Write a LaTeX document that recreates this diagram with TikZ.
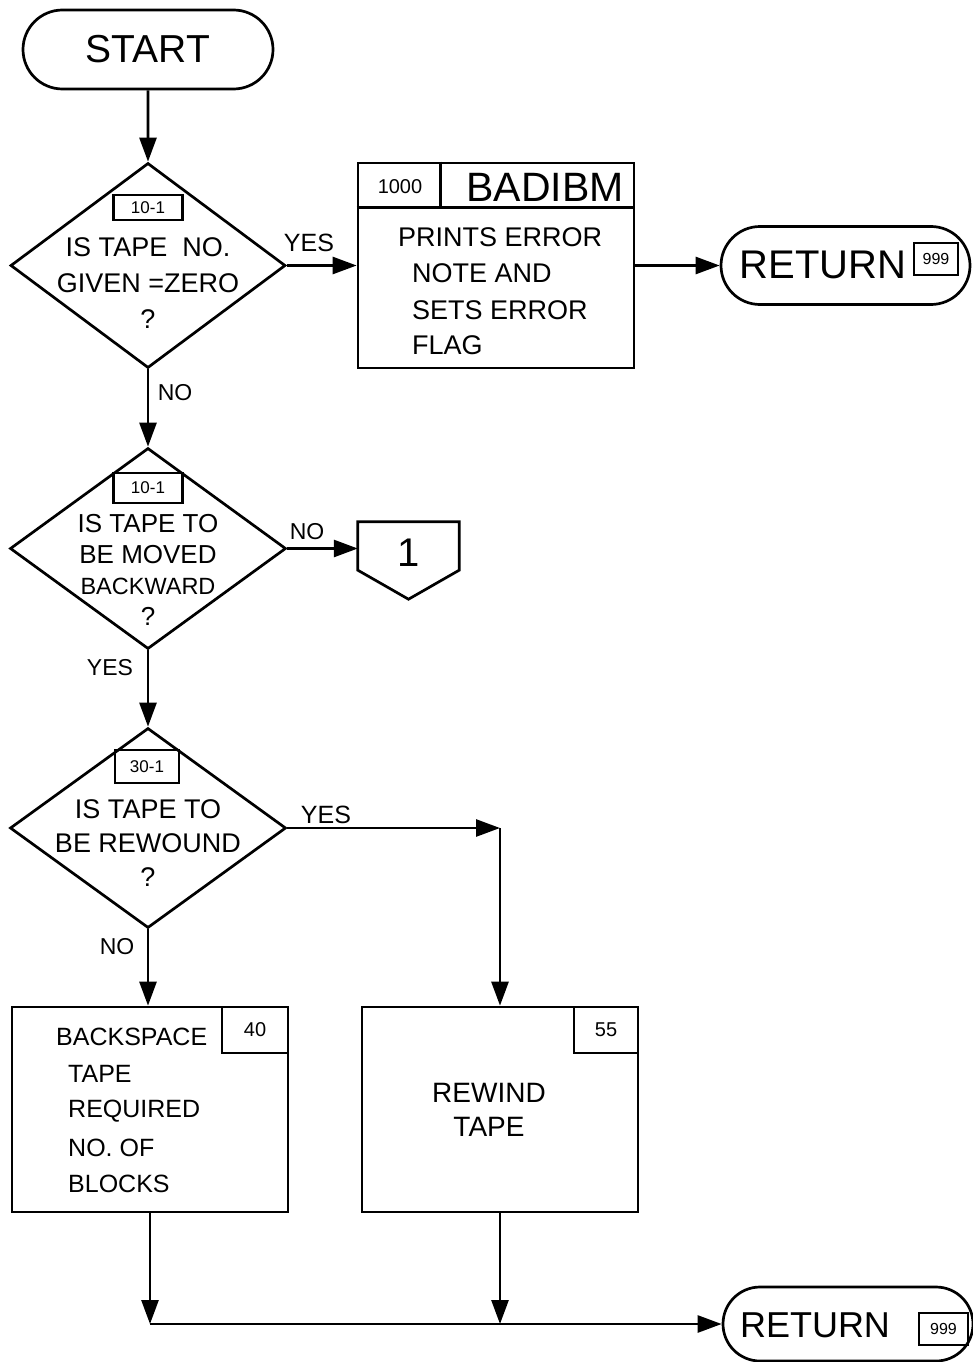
\documentclass[tikz,border=0pt]{standalone}
\usepackage{fontspec}
\newfontfamily\lettering{Liberation Sans}
\usetikzlibrary{shapes.geometric,shapes.misc,arrows.meta,calc}
\begin{document}
\begin{tikzpicture}[x=1pt,y=-1pt,
  ln/.style={line width=2.7pt},
  flow/.style={ln,-{Triangle[length=24pt,width=17pt]}},
  term/.style={draw,ln,rounded rectangle,inner sep=0pt},
  dec/.style={draw,ln,diamond,inner sep=0pt},
  boxx/.style={draw,ln,rectangle,inner sep=0pt},
  tag/.style={draw,line width=2.2pt,rectangle,inner sep=0pt},
  fs/.style args={#1/#2}{font=\lettering\fontsize{#1}{#2}\selectfont},
  lbl/.style={inner sep=0pt,anchor=west}
]
\useasboundingbox (0,0) rectangle (973,1362);

% START
\node[term,minimum width=250pt,minimum height=79pt,fs={39/44}] (start) at (148,49.5) {START};

% decision 1
\node[dec,minimum width=275pt,minimum height=205pt] (d1) at (148,265.5) {};
\node[tag,minimum width=69pt,minimum height=25pt,fs={17/18}] (t1) at (148,207.5) {10-1};
\node[fs={27/36},align=center] (q1) at (148,283) {IS TAPE\ \ NO.\\GIVEN =ZERO\\?};

% BADIBM box
\node[boxx,minimum width=276pt,minimum height=205pt] (bad) at (496,265.5) {};
\draw[ln] ($(bad.north west)+(0,46)$) -- ($(bad.north east)+(0,46)$);
\draw[ln] ($(bad.north west)+(84,0)$) -- ($(bad.north west)+(84,46)$);
\node[fs={20/24}] (badnum) at (400,187) {1000};
\node[fs={41/48}] (badname) at (545,187) {BADIBM};
\node[fs={27/32},lbl] (b1) at (398,237) {PRINTS ERROR};
\node[fs={27/32},lbl] (b2) at (412,273) {NOTE AND};
\node[fs={27/32},lbl] (b3) at (412,310) {SETS ERROR};
\node[fs={27/32},lbl] (b4) at (412,345) {FLAG};

% RETURN 1
\node[term,minimum width=249pt,minimum height=78pt] (ret1) at (845.5,265.5) {};
\node[fs={40/46}] (rt1) at (823,265) {RETURN};
\node[tag,minimum width=44pt,minimum height=32pt,fs={16/18}] (n1) at (936,259) {999};

% decision 2
\node[dec,minimum width=276pt,minimum height=201pt] (d2) at (148,548.5) {};
\node[tag,minimum width=69pt,minimum height=30pt,fs={17/18}] (t2) at (148,488) {10-1};
\node[fs={26/31},align=center] (q2) at (148,570) {IS TAPE TO\\BE MOVED\\{\fontsize{23.5}{31}\selectfont BACKWARD}\\?};

% off-page connector
\node[minimum width=101pt,minimum height=48pt,inner sep=0pt] (conn) at (408.5,546) {};
\draw[ln] (conn.north west) -- (conn.north east) -- (conn.south east) -- ($(conn.south)+(0,29)$) -- (conn.south west) -- cycle;
\node[fs={40/44}] (one) at (408.5,553) {1};

% decision 3
\node[dec,minimum width=276pt,minimum height=200pt] (d3) at (148,828) {};
\node[tag,minimum width=64pt,minimum height=33pt,fs={17/18}] (t3) at (147,766.5) {30-1};
\node[fs={27/34},align=center] (q3) at (148,843) {IS TAPE TO\\BE REWOUND\\?};

% backspace box
\node[boxx,minimum width=276pt,minimum height=205pt] (back) at (150,1109.5) {};
\node[boxx,minimum width=66pt,minimum height=46pt,fs={20/24}] (t40) at (255,1030) {40};
\node[fs={25/30},lbl] (k1) at (56,1037) {BACKSPACE};
\node[fs={25/30},lbl] (k2) at (68,1074) {TAPE};
\node[fs={25/30},lbl] (k3) at (68,1111) {REQUIRED};
\node[fs={25/30},lbl] (k4) at (68,1148) {NO. OF};
\node[fs={25/30},lbl] (k5) at (68,1184) {BLOCKS};

% rewind box
\node[boxx,minimum width=276pt,minimum height=205pt] (rew) at (500,1109.5) {};
\node[boxx,minimum width=64pt,minimum height=46pt,fs={20/24}] (t55) at (606,1030) {55};
\node[fs={28/34},align=center] (rw) at (489,1110) {REWIND\\TAPE};

% RETURN 2
\node[term,minimum width=250pt,minimum height=74pt] (ret2) at (848,1324) {};
\node[fs={36/42}] (rt2) at (815,1325) {RETURN};
\node[tag,minimum width=49pt,minimum height=32pt,fs={16/18}] (n2) at (943.5,1329) {999};

% labels
\node[fs={25/30}] (y1) at (309,243) {YES};
\node[fs={23/28}] (no1) at (175,393) {NO};
\node[fs={23/28}] (no2) at (307,532) {NO};
\node[fs={23/28}] (y2) at (110,668) {YES};
\node[fs={25/30}] (y3) at (326,815) {YES};
\node[fs={23/28}] (no3) at (117,947) {NO};

% connectors
\draw[flow] (start) -- (d1);
\draw[flow] (d1) -- (bad);
\draw[flow] (bad) -- (ret1);
\draw[flow] (d1) -- (d2);
\draw[flow] (d2.east) -- (conn.west |- d2.east);
\draw[flow] (d2) -- (d3);
\coordinate (bend) at (rew.north |- d3.east);
\draw[flow] (d3.east) -- (bend);
\draw[flow] (bend) -- (rew.north);
\draw[flow] (d3.south) -- (d3.south |- back.north);
\coordinate (j1) at (back.south |- ret2.west);
\coordinate (j2) at (rew.south |- ret2.west);
\draw[flow] (back.south) -- (j1);
\draw[flow] (rew.south) -- (j2);
\draw[flow] (j1) -- (ret2.west);
\end{tikzpicture}
\end{document}
